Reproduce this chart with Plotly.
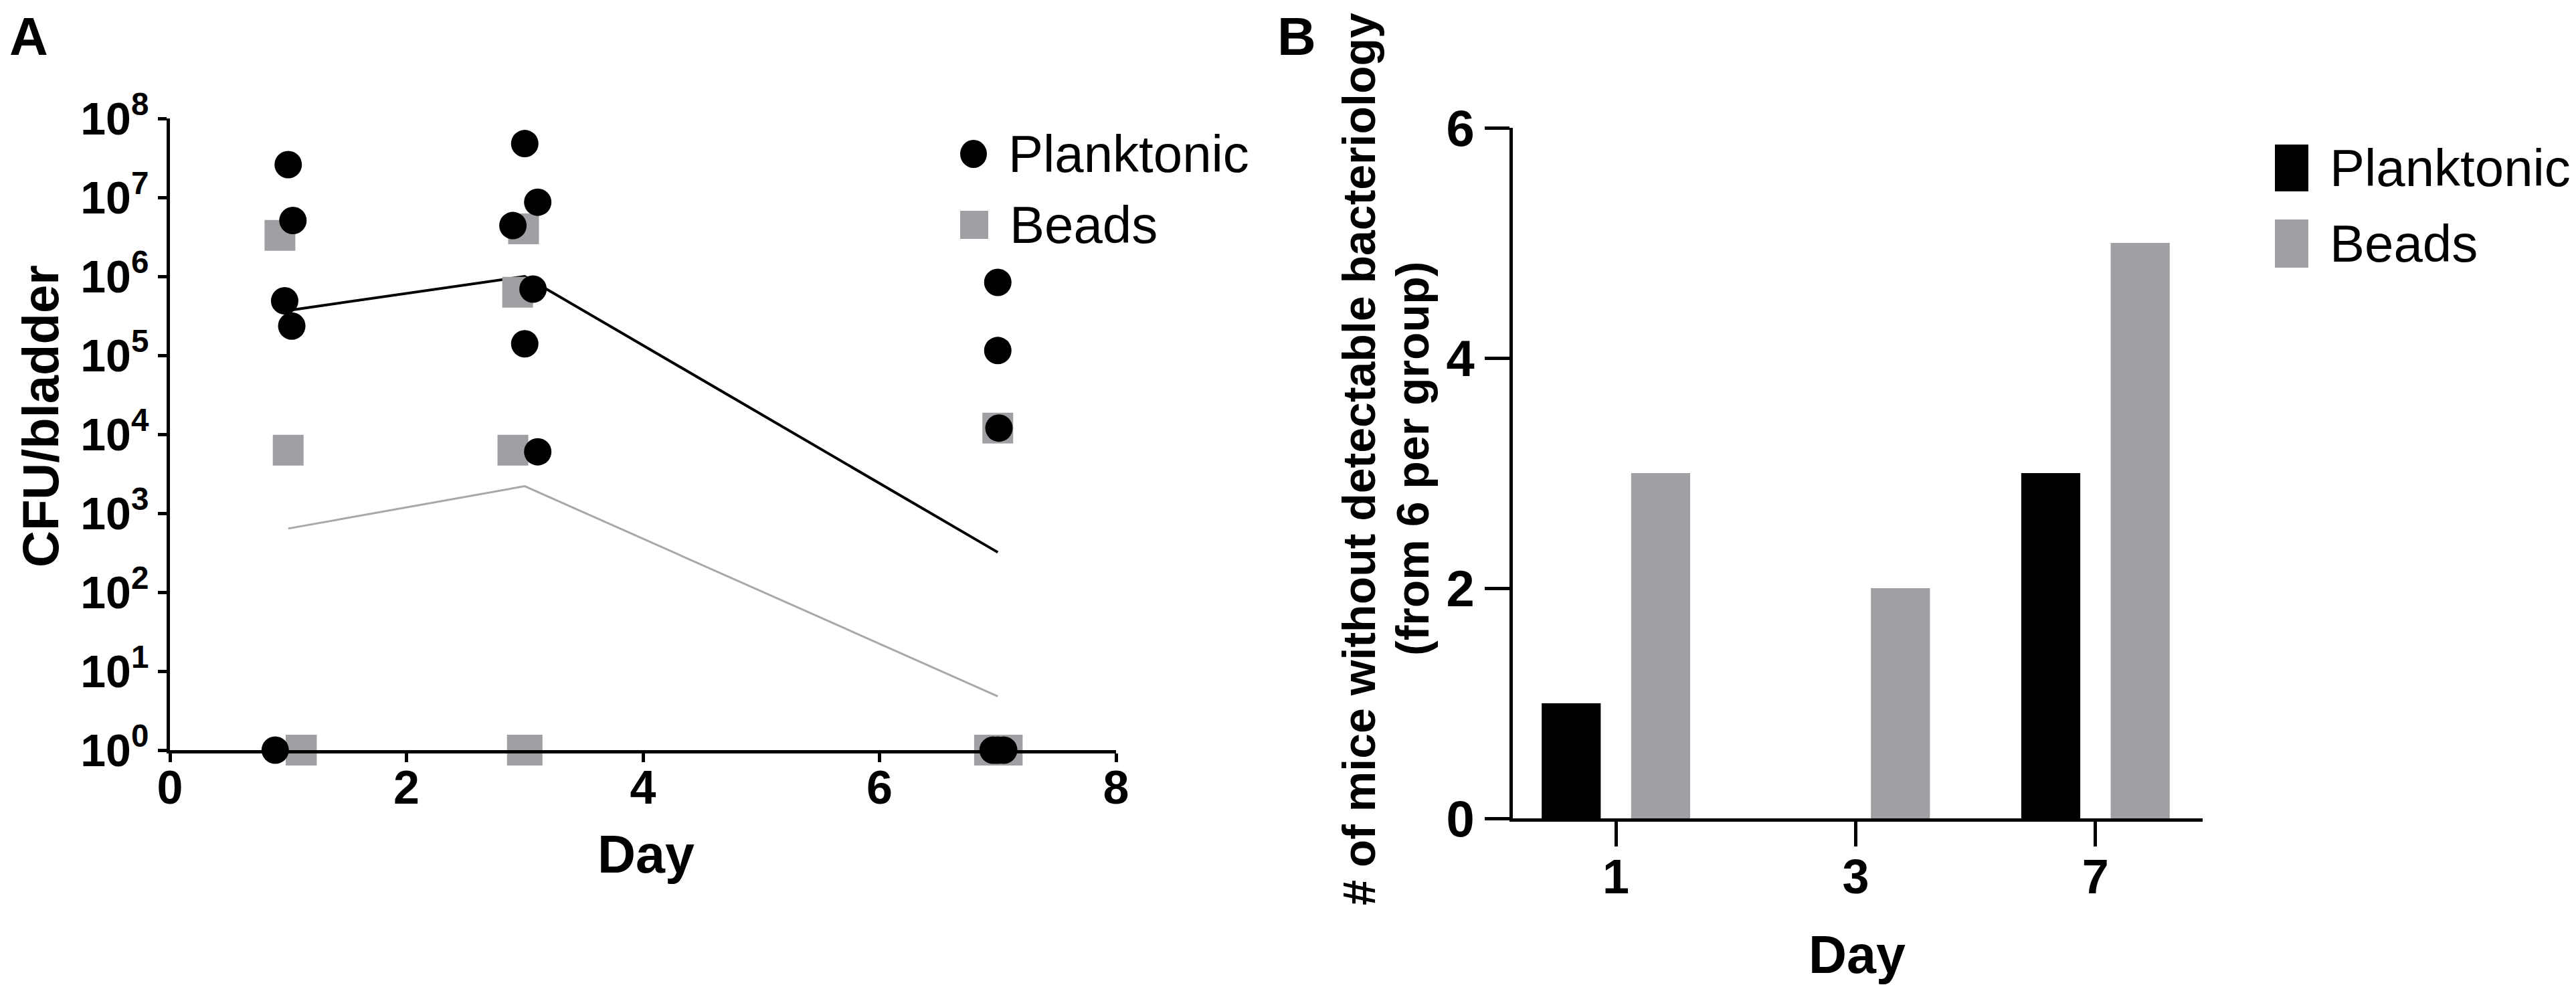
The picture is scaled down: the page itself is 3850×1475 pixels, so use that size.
import plotly.graph_objects as go

# ---- data: panel A (CFU per bladder, individual mice) ----
plank_day = [1.0, 1.04, 0.97, 1.03, 0.89,
             3.0, 3.11, 2.9, 3.07, 3.0, 3.11,
             7.0, 7.0, 7.01, 6.96, 7.0, 7.05]
plank_cfu = [2.6e7, 5.1e6, 4.9e5, 2.35e5, 1,
             4.8e7, 8.7e6, 4.4e6, 6.9e5, 1.4e5, 6e3,
             8.4e5, 1.15e5, 1.2e4, 1, 1, 1]

beads_day = [0.93, 1.0, 1.11, 1.11, 1.11,
             2.99, 2.94, 2.9, 2.98, 3.02,
             7.0, 6.93, 6.97, 7.0, 7.04, 7.08]
beads_cfu = [3.3e6, 6.3e3, 1, 1, 1,
             4e6, 6.3e5, 6.3e3, 1, 1,
             1.2e4, 1, 1, 1, 1, 1]

mean_day = [1, 3, 7]
plank_mean = [3.7e5, 1.0e6, 3.2e2]
beads_mean = [6.4e2, 2.2e3, 4.8]

# ---- data: panel B (mice without detectable bacteriology) ----
days_b = ["1", "3", "7"]
plank_neg = [1, 0, 3]
beads_neg = [3, 2, 5]

y_exps = list(range(0, 9))

W, H = 3850, 1475
FONT = "Liberation Sans, Arial, sans-serif"
BLACK = "#000000"
GREY = "#9F9FA4"
GREY_LINE = "#A8A8A8"


def px(x):
    return x / W


def py(y):
    return 1 - y / H


fig = go.Figure()

# panel A
fig.add_trace(go.Scatter(x=mean_day, y=beads_mean, mode="lines",
                         line=dict(color=GREY_LINE, width=3),
                         xaxis="x", yaxis="y", showlegend=False))
fig.add_trace(go.Scatter(x=mean_day, y=plank_mean, mode="lines",
                         line=dict(color=BLACK, width=4),
                         xaxis="x", yaxis="y", showlegend=False))
fig.add_trace(go.Scatter(x=beads_day, y=beads_cfu, mode="markers", name="Beads",
                         marker=dict(symbol="square", size=46, color=GREY),
                         cliponaxis=False, xaxis="x", yaxis="y", showlegend=False))
fig.add_trace(go.Scatter(x=plank_day, y=plank_cfu, mode="markers", name="Planktonic",
                         marker=dict(symbol="circle", size=41, color=BLACK),
                         cliponaxis=False, xaxis="x", yaxis="y", showlegend=False))

# panel B
fig.add_trace(go.Bar(x=days_b, y=plank_neg, name="Planktonic", marker_color=BLACK,
                     marker_line_width=0, xaxis="x2", yaxis="y2", showlegend=False))
fig.add_trace(go.Bar(x=days_b, y=beads_neg, name="Beads", marker_color=GREY,
                     marker_line_width=0, xaxis="x2", yaxis="y2", showlegend=False))

axis_common = dict(showline=True, linecolor=BLACK, linewidth=5, ticks="outside",
                   tickcolor=BLACK, tickwidth=5, showgrid=False, zeroline=False,
                   automargin=False)

fig.update_layout(
    width=W, height=H, autosize=False, showlegend=False,
    margin=dict(l=0, r=0, t=0, b=0, pad=0, autoexpand=False),
    paper_bgcolor="white", plot_bgcolor="white",
    font=dict(family=FONT, color=BLACK),
    barmode="group", bargap=0.254, bargroupgap=0.34,
    xaxis=dict(domain=[px(246), px(1660)], range=[0, 8], tickvals=[0, 2, 4, 6, 8],
               ticklen=13, ticklabelstandoff=-22,
               tickfont=dict(size=70, family=FONT, weight="bold"),
               anchor="y", **axis_common),
    yaxis=dict(domain=[py(1113), py(169)], type="log", range=[0, 8],
               tickvals=[10 ** e for e in y_exps],
               ticktext=["10<sup>%d</sup>" % e for e in y_exps],
               ticklen=13, tickfont=dict(size=68, family=FONT, weight="bold"),
               anchor="x", **axis_common),
    xaxis2=dict(domain=[px(2253), px(3284)], type="category", range=[-0.43, 2.447],
                ticklen=37, ticklabelstandoff=-16,
                tickfont=dict(size=72, family=FONT, weight="bold"),
                anchor="y2", **axis_common),
    yaxis2=dict(domain=[py(1215), py(183)], range=[0, 6], tickvals=[0, 2, 4, 6],
                ticklen=37, tickfont=dict(size=76, family=FONT, weight="bold"),
                anchor="x2", **axis_common),
)


def label(text, x, y, size, bold=True, angle=0, xanchor="center", yanchor="middle"):
    fig.add_annotation(text=text, x=px(x), y=py(y), xref="paper", yref="paper",
                       showarrow=False, textangle=angle, xanchor=xanchor, yanchor=yanchor,
                       font=dict(size=size, family=FONT, color=BLACK,
                                 weight="bold" if bold else "normal"))


# panel letters and axis titles
label("A", 35, 0, 80, yanchor="top")
label("B", 1930, 0, 80, yanchor="top")
label("CFU/bladder", 52, 614, 76, angle=-90)
label("Day", 957, 1268, 79)
label("Day", 2767, 1418, 79)
label("# of mice without detectable bacteriology", 2023, 678, 68, angle=-90)
label("(from 6 per group)", 2103, 678, 68, angle=-90)

# legends (symbol + text), built from series names
legend_a = [("Planktonic", "circle", BLACK, 1447, 222, 20, 21),
            ("Beads", "rect", GREY, 1448, 328, 21, 21)]
legend_b = [("Planktonic", "rect", BLACK, 3417, 243, 25, 35),
            ("Beads", "rect", GREY, 3417, 356, 25, 36)]

for name, shp, col, cx, cy, hw, hh in legend_a + legend_b:
    fig.add_shape(type=shp, xref="paper", yref="paper",
                  xsizemode="pixel", ysizemode="pixel",
                  xanchor=px(cx), yanchor=py(cy),
                  x0=-hw, x1=hw, y0=-hh, y1=hh,
                  fillcolor=col, line=dict(width=0))
    label(name, cx + hw + 30, cy, 78, bold=False, xanchor="left")

fig.write_html("out.html", config={"responsive": False, "displayModeBar": False})
